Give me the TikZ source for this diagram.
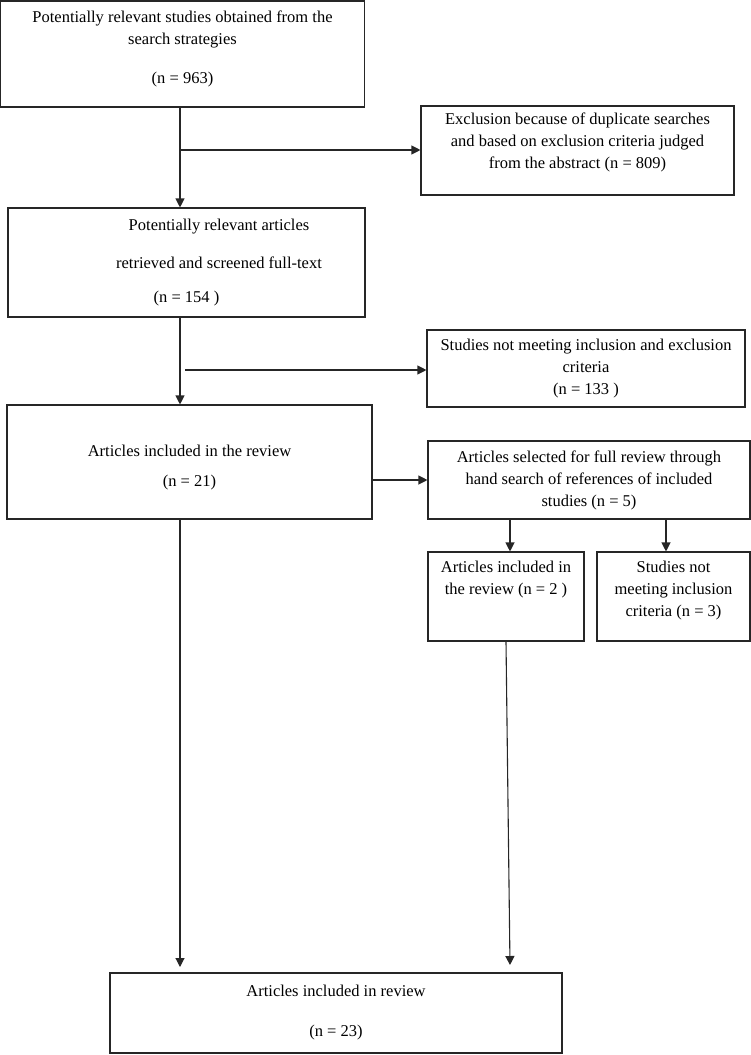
\documentclass[tikz,border=0pt]{standalone}
\usepackage{fontspec}
\setmainfont{Liberation Serif}
\usetikzlibrary{arrows.meta,positioning}

\begin{document}
\begin{tikzpicture}[x=1pt,y=-1pt,every node/.style={font=\fontsize{16.5}{22}\selectfont},box/.style={rectangle,draw=black!85,line width=1.1pt,inner sep=0pt,align=center},arrow/.style={-{Triangle[length=9pt,width=9pt]},line width=1.1pt,draw=black!85}]
\useasboundingbox (0,0) rectangle (751,1055);
\node[box,minimum width=364pt,minimum height=106pt](search) at (182.5,54){Potentially relevant studies obtained from the\\search strategies\\[17pt](n = 963)\rule[-14pt]{0pt}{14pt}};
\node[box,minimum width=313pt,minimum height=89pt](dup) at (577.5,150.5){Exclusion because of duplicate searches\\and based on exclusion criteria judged\\from the abstract (n = 809)\rule[-19pt]{0pt}{19pt}};
\node[box,minimum width=357pt,minimum height=109pt](fulltext) at (186.5,262.5){\hspace*{65pt}Potentially relevant articles\\[16pt]\hspace*{65pt}retrieved and screened full-text\\[12pt](n = 154 )};
\node[box,minimum width=318pt,minimum height=77pt](notmeet) at (586,368.5){Studies not meeting inclusion and exclusion\\criteria\\(n = 133 )};
\node[box,minimum width=365pt,minimum height=114pt](included) at (189.5,462){\rule{0pt}{23pt}Articles included in the review\\[8pt](n = 21)};
\node[box,minimum width=322pt,minimum height=78pt](hand) at (589,480){Articles selected for full review through\\hand search of references of included\\studies (n = 5)};
\node[box,minimum width=156pt,minimum height=89pt](incltwo) at (506,596.5){Articles included in\\the review (n = 2 )\rule[-38pt]{0pt}{38pt}};
\node[box,minimum width=153pt,minimum height=89pt](notincl) at (673.5,596.5){Studies not\\meeting inclusion\\criteria (n = 3)\rule[-16pt]{0pt}{16pt}};
\node[box,minimum width=452pt,minimum height=80pt](final) at (336,1013){Articles included in review\\[18pt](n = 23)};
% branch points and free ends
\coordinate (t1) at (180,150);
\coordinate (t2) at (185,370);
\coordinate (d1) at (510,0);
\coordinate (d2) at (666,0);
\coordinate (e1) at (180,967);
\coordinate (e2) at (510,965);
\draw[arrow](search.south -| t1)--(fulltext.north -| t1);\draw[arrow](t1)--(t1 -| dup.west);
\draw[arrow](fulltext.south -| t1)--(included.north -| t1);\draw[arrow](t2)--(t2 -| notmeet.west);
\draw[arrow](included.east |- hand.west)--(hand.west);
\draw[arrow](hand.south -| d1)--(incltwo.north -| d1);\draw[arrow](hand.south -| d2)--(notincl.north -| d2);
\draw[arrow](included.south -| e1)--(e1);\draw[arrow](incltwo.south)--(e2);
\end{tikzpicture}
\end{document}
